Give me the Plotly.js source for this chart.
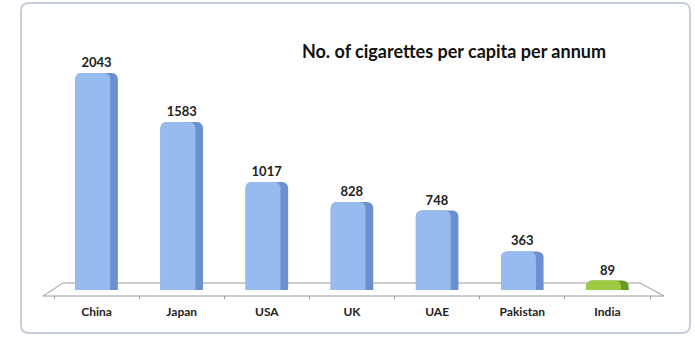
<!DOCTYPE html>
<html>
<head>
<meta charset="utf-8">
<script src="https://cdn.plot.ly/plotly-3.0.1.min.js"></script>
<style>html,body{margin:0;padding:0;background:#fff;}#chart{width:695px;height:338px;}</style>
</head>
<body>
<div id="chart"></div>
<script>
const countries = ["China", "Japan", "USA", "UK", "UAE", "Pakistan", "India"];
const cigarettes = [2043, 1583, 1017, 828, 748, 363, 89];
const chartTitle = "No. of cigarettes per capita per annum";

const darkCol = countries.map(c => c === "India" ? "#6a9a26" : "#6a90cf");
const lightCol = countries.map(c => c === "India" ? "#9dcc42" : "#97bbee");

// plot area geometry (px)
const L = 54, R = 650, T = 40, B = 295;
const W = 695, H = 338;
const px = x => (x - L) / (R - L);
const py = y => (B - y) / (B - T);

const base = {
  type: "bar", x: countries, y: cigarettes,
  width: 0.5,
  marker: {color: darkCol, cornerradius: 6, line: {width: 0}},
  text: cigarettes.map(String), textposition: "outside",
  textfont: {family: "Lato, 'Open Sans', sans-serif", size: 13, color: "#222", weight: "bold"},
  cliponaxis: false, hoverinfo: "skip"
};
const highlight = {
  type: "bar", x: countries, y: cigarettes,
  width: 0.41, offset: -0.25,
  marker: {color: lightCol, cornerradius: 6, line: {width: 0}},
  hoverinfo: "skip"
};

const shapes = [
  // outer rounded frame
  {type: "path", xref: "paper", yref: "paper",
   path: `M ${px(29)} ${py(3)} L ${px(682)} ${py(3)} Q ${px(690)} ${py(3)} ${px(690)} ${py(11)} L ${px(690)} ${py(325)} Q ${px(690)} ${py(333)} ${px(682)} ${py(333)} L ${px(29)} ${py(333)} Q ${px(21)} ${py(333)} ${px(21)} ${py(325)} L ${px(21)} ${py(11)} Q ${px(21)} ${py(3)} ${px(29)} ${py(3)} Z`,
   line: {color: "#c6cddb", width: 2}, layer: "below"},
  // floor
  {type: "path", xref: "paper", yref: "paper",
   path: `M ${px(63)} ${py(283)} L ${px(640)} ${py(283)} L ${px(664)} ${py(296)} L ${px(43)} ${py(296)} Z`,
   line: {color: "#9a9a9a", width: 1}, fillcolor: "rgba(255,255,255,0)", layer: "below"}
];

const layout = {
  width: W, height: H,
  margin: {l: L, r: W - R, t: T, b: H - B},
  paper_bgcolor: "#ffffff", plot_bgcolor: "rgba(0,0,0,0)",
  barmode: "overlay", showlegend: false,
  font: {family: "Lato, 'Open Sans', sans-serif", color: "#222"},
  title: {text: "<b>" + chartTitle + "</b>", x: 454 / W, xanchor: "center", y: 1 - 52 / H, yanchor: "middle",
          font: {size: 18, color: "#111", family: "Lato, 'Open Sans', sans-serif"}},
  xaxis: {type: "category", showgrid: false, zeroline: false, showline: false,
          ticks: "outside", tickson: "boundaries", ticklen: 3, tickcolor: "#999",
          tickfont: {size: 12, color: "#222", weight: "bold"}, ticklabelstandoff: 8},
  yaxis: {range: [-47, 2354], visible: false, showgrid: false, zeroline: false},
  shapes: shapes
};

Plotly.newPlot("chart", [base, highlight], layout, {displayModeBar: false, staticPlot: true});
</script>
</body>
</html>
